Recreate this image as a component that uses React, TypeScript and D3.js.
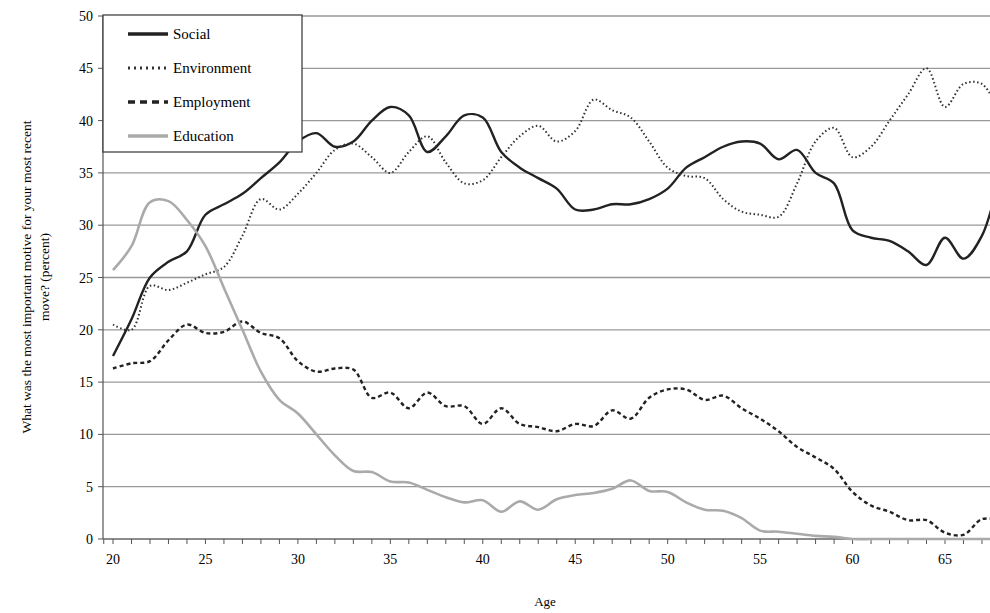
import React from "react";
import * as d3 from "d3";

const ages = d3.range(20, 69);
const social = [17.5,21,25,26.5,27.5,31,32,33,34.5,36,38,38.8,37.5,38,40,41.3,40.5,37,38.5,40.5,40.3,37,35.5,34.5,33.5,31.5,31.5,32,32,32.5,33.5,35.5,36.5,37.5,38,37.8,36.3,37.2,35,34,29.5,28.8,28.5,27.5,26.2,28.8,26.8,29,35];
const environment = [20.5,20,24.2,23.8,24.5,25.3,26,29,32.5,31.5,33,35,37.2,37.8,36.5,35,37,38.5,36,34,34.3,36.5,38.5,39.5,38,39,42,41,40.3,38,35.5,34.7,34.5,32.5,31.3,31,30.8,34,38,39.3,36.5,37.5,40,42.5,45,41.3,43.5,43.5,40.5];
const employment = [16.3,16.8,17,19,20.5,19.7,19.8,20.8,19.7,19.2,17,16,16.3,16.2,13.5,14,12.5,14,12.7,12.7,11,12.5,11,10.7,10.3,11,10.8,12.3,11.5,13.5,14.3,14.3,13.3,13.7,12.5,11.5,10.3,8.8,7.8,6.7,4.5,3.2,2.6,1.8,1.8,0.6,0.4,1.9,1.8];
const education = [25.7,28,32.2,32.3,30.5,28,24,20,16,13.3,12,10,8,6.5,6.4,5.5,5.4,4.7,4,3.5,3.7,2.6,3.6,2.8,3.8,4.2,4.4,4.8,5.6,4.6,4.5,3.5,2.8,2.7,2,0.8,0.7,0.5,0.3,0.2,0,0,0,0,0,0,0,0,0];
const xTicks = [20,25,30,35,40,45,50,55,60,65];
const yTicks = [0,5,10,15,20,25,30,35,40,45,50];

const series = [
  { name: "Social", values: social, color: "#222", width: 2.4, dash: "" },
  { name: "Environment", values: environment, color: "#333", width: 2, dash: "1.5,2.5" },
  { name: "Employment", values: employment, color: "#222", width: 2.4, dash: "4,3" },
  { name: "Education", values: education, color: "#aaa", width: 2.6, dash: "" },
];

export default function App() {
  const W = 990, H = 613;
  const x = d3.scaleLinear().domain([20, 65]).range([113, 945]);
  const y = d3.scaleLinear().domain([0, 50]).range([539, 16]);
  const left = 103, right = 990;
  const line = d3.line<number>().x((_, i) => x(ages[i])).y(d => y(d)).curve(d3.curveCatmullRom);
  const minor = d3.range(20, 69);
  return (
    <svg width={W} height={H} style={{ position: "absolute", left: 0, top: 0, fontFamily: "Liberation Serif, serif" }}>
      <defs><clipPath id="c"><rect x={left} y={0} width={right - left} height={H} /></clipPath></defs>
      {yTicks.map(t => (
        <g key={t}>
          <line x1={left} x2={right} y1={y(t)} y2={y(t)} stroke={t === 0 ? "#666" : "#999"} strokeWidth={1.3} />
          <line x1={left - 5} x2={left} y1={y(t)} y2={y(t)} stroke="#555" />
          <text x={left - 10} y={y(t) + 5} textAnchor="end" fontSize={14}>{t}</text>
        </g>
      ))}
      <line x1={left} x2={left} y1={y(50)} y2={y(0)} stroke="#555" strokeWidth={1.2} />
      {minor.map(t => <line key={t} x1={x(t)} x2={x(t)} y1={y(0)} y2={y(0) + 5} stroke="#555" />)}
      <line x1={x(19.5)} x2={x(19.5)} y1={y(0)} y2={y(0) + 5} stroke="#555" />
      {xTicks.map(t => <text key={t} x={x(t)} y={y(0) + 25} textAnchor="middle" fontSize={14}>{t}</text>)}
      <text x={545} y={606} textAnchor="middle" fontSize={13}>Age</text>
      <text transform="translate(31,277) rotate(-90)" textAnchor="middle" fontSize={13.5}>What was the most important motive for your most recent</text>
      <text transform="translate(49,277) rotate(-90)" textAnchor="middle" fontSize={13.5}>move? (percent)</text>
      <g clipPath="url(#c)">
        {series.map(s => (
          <path key={s.name} d={line(s.values) || ""} fill="none" stroke={s.color} strokeWidth={s.width} strokeDasharray={s.dash} />
        ))}
      </g>
      <rect x={left} y={15} width={199} height={137} fill="white" stroke="#333" strokeWidth={1.2} />
      {series.map((s, i) => (
        <g key={s.name}>
          <line x1={128} x2={168} y1={34 + i * 34} y2={34 + i * 34} stroke={s.color} strokeWidth={s.width + 1} strokeDasharray={s.dash === "" ? "" : s.dash === "4,3" ? "7,5" : "2,4"} />
          <text x={173} y={39 + i * 34} fontSize={15}>{s.name}</text>
        </g>
      ))}
    </svg>
  );
}
